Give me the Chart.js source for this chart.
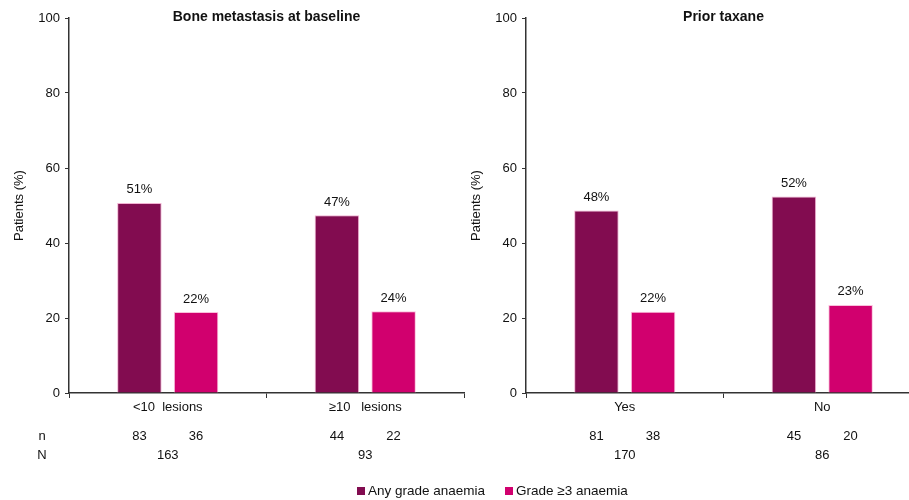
<!DOCTYPE html>
<html>
<head>
<meta charset="utf-8">
<script src="https://cdn.jsdelivr.net/npm/chart.js@4/dist/chart.umd.min.js"></script>
<style>
    html, body { margin: 0; padding: 0; background: #fff; overflow: hidden; }
    body { width: 909px; height: 500px; position: relative; font-family: "Liberation Sans", Arial, sans-serif; }
    canvas { position: absolute; top: 0; }
    .legendItem { position: absolute; top: 483px; font-size: 13.5px; color: #111; white-space: nowrap; }
    .legendItem span.box { display: inline-block; width: 8px; height: 8px; margin-right: 3px; vertical-align: 0px; }
</style>
</head>
<body>
<canvas id="boneChart" width="470" height="500" style="left:0px"></canvas>
<canvas id="taxaneChart" width="470" height="500" style="left:457px"></canvas>
<div class="legendItem" style="left:357px"><span class="box" style="background:#820C50"></span>Any grade anaemia</div>
<div class="legendItem" style="left:505px"><span class="box" style="background:#D1006E"></span>Grade ≥3 anaemia</div>

<script>
//---------------------------------
//Data
const yTicks = [0, 20, 40, 60, 80, 100];
const seriesNames = ['Any grade anaemia', 'Grade ≥3 anaemia'];

const boneTitle = 'Bone metastasis at baseline';
const boneCategories = ['<10  lesions', '≥10   lesions'];
const boneAnyGrade = [50.7, 47.4];
const boneGrade3 = [21.6, 21.8];
const boneAnyLabels = ['51%', '47%'];
const boneGrade3Labels = ['22%', '24%'];
const boneAnyN = ['83', '44'];
const boneGrade3N = ['36', '22'];
const boneTotalN = ['163', '93'];

const taxaneTitle = 'Prior taxane';
const taxaneCategories = ['Yes', 'No'];
const taxaneAnyGrade = [48.7, 52.4];
const taxaneGrade3 = [21.7, 23.5];
const taxaneAnyLabels = ['48%', '52%'];
const taxaneGrade3Labels = ['22%', '23%'];
const taxaneAnyN = ['81', '45'];
const taxaneGrade3N = ['38', '20'];
const taxaneTotalN = ['170', '86'];
//---------------------------------

const FONT = '"Liberation Sans", Arial, sans-serif';
const TEXT = '#111';

function makePanel(canvasId, title, categories, anyGrade, grade3, anyLabels, grade3Labels, anyN, grade3N, totalN, showRowNames) {

    //Start extra text plugin (title, y title, bar labels, n / N rows)
    const panelText = {
        id: 'panelText',
        afterDraw(chart) {
            const ctx = chart.ctx;
            const area = chart.chartArea;
            ctx.save();
            ctx.fillStyle = TEXT;
            ctx.textAlign = 'center';
            ctx.textBaseline = 'middle';

            ctx.font = 'bold 14px ' + FONT;
            ctx.fillText(title, (area.left + area.right) / 2, 17);

            ctx.font = '13px ' + FONT;
            ctx.save();
            ctx.translate(19, (area.top + area.bottom) / 2);
            ctx.rotate(-Math.PI / 2);
            ctx.fillText('Patients (%)', 0, 0);
            ctx.restore();

            const labelSets = [anyLabels, grade3Labels];
            const nSets = [anyN, grade3N];
            chart.data.datasets.forEach((ds, di) => {
                chart.getDatasetMeta(di).data.forEach((bar, i) => {
                    ctx.fillText(labelSets[di][i], bar.x, bar.y - 13);
                    ctx.fillText(nSets[di][i], bar.x, 436);
                });
            });

            const xs = chart.scales.x;
            totalN.forEach((v, i) => {
                ctx.fillText(v, xs.getPixelForValue(i), 455);
            });

            if (showRowNames) {
                ctx.fillText('n', 42, 436);
                ctx.fillText('N', 42, 455);
            }
            ctx.restore();
        }
    };
    //End extra text plugin

    return new Chart(document.getElementById(canvasId), {
        type: 'bar',
        data: {
            labels: categories,
            datasets: [{
                label: seriesNames[0],
                data: anyGrade,
                backgroundColor: '#820C50',
                borderColor: 'rgba(240,170,205,0.9)',
                borderWidth: 1,
                categoryPercentage: 0.574,
                barPercentage: 0.785
            }, {
                label: seriesNames[1],
                data: grade3,
                backgroundColor: '#D1006E',
                borderColor: 'rgba(250,185,215,0.9)',
                borderWidth: 1,
                categoryPercentage: 0.574,
                barPercentage: 0.785
            }]
        },
        options: {
            responsive: false,
            animation: false,
            layout: { padding: { top: 18, right: 6, left: 0, bottom: 0 } },
            plugins: {
                legend: { display: false },
                tooltip: { enabled: false }
            },
            scales: {
                x: {
                    grid: { drawOnChartArea: false, drawTicks: true, tickLength: 5, tickColor: '#333', offset: true },
                    border: { color: '#333', width: 1.5 },
                    ticks: { color: TEXT, font: { family: FONT, size: 13 }, padding: 2, maxRotation: 0 },
                    afterFit: (scale) => { scale.height = 107; }
                },
                y: {
                    min: 0,
                    max: 100,
                    afterBuildTicks: (scale) => { scale.ticks = yTicks.map(v => ({ value: v })); },
                    grid: { drawOnChartArea: false, drawTicks: true, tickLength: 4, tickColor: '#333' },
                    border: { color: '#333', width: 1.5 },
                    ticks: { color: TEXT, font: { family: FONT, size: 13 }, padding: 5 },
                    afterFit: (scale) => { scale.width = 69; }
                }
            }
        },
        plugins: [panelText]
    });
}

makePanel('boneChart', boneTitle, boneCategories, boneAnyGrade, boneGrade3,
    boneAnyLabels, boneGrade3Labels, boneAnyN, boneGrade3N, boneTotalN, true);

makePanel('taxaneChart', taxaneTitle, taxaneCategories, taxaneAnyGrade, taxaneGrade3,
    taxaneAnyLabels, taxaneGrade3Labels, taxaneAnyN, taxaneGrade3N, taxaneTotalN, false);
</script>
</body>
</html>
